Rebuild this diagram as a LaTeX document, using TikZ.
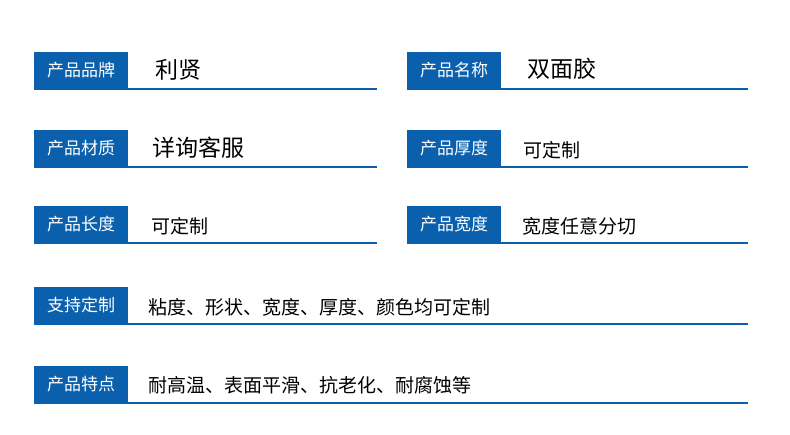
\documentclass[tikz,border=0pt]{standalone}
\usepackage{fontspec}
\setmainfont{Noto Sans CJK SC}
\definecolor{bl}{HTML}{0A60AC}
\begin{document}
\begin{tikzpicture}[x=1pt,y=-1pt,
 lab/.style={fill=bl,text=white,font=\fontsize{17}{17}\selectfont,minimum width=94pt,minimum height=37pt,inner sep=0pt,anchor=south west},
 val/.style={anchor=west,inner sep=0pt,font=\fontsize{19}{19}\selectfont},
 big/.style={val,font=\fontsize{23}{23}\selectfont},
 ul/.style={draw=bl,line width=1.3pt}]
\useasboundingbox (0,0) rectangle (790,435);
\foreach \n/\x/\y/\w/\t in {a/34/89/377/产品品牌,b/407/89/748/产品名称,c/34/167/377/产品材质,d/407/167/748/产品厚度,e/34/243/377/产品长度,f/407/243/748/产品宽度,g/34/324/748/支持定制,h/34/403/748/产品特点}{
 \node[lab] (\n) at (\x,\y) {\t};
 \coordinate (\n e) at (\w,\y);
 \draw[ul] (\n.south west) -- (\n e);
}
\node[big] (va) at (155,70) {利贤};
\node[big] (vb) at (527,69) {双面胶};
\node[big] (vc) at (152,148) {详询客服};
\node[val] (vd) at (523,150) {可定制};
\node[val] (ve) at (151,226) {可定制};
\node[val] (vf) at (522,226) {宽度任意分切};
\node[val] (vg) at (148,307) {粘度、形状、宽度、厚度、颜色均可定制};
\node[val] (vh) at (148,385) {耐高温、表面平滑、抗老化、耐腐蚀等};
\end{tikzpicture}
\end{document}
